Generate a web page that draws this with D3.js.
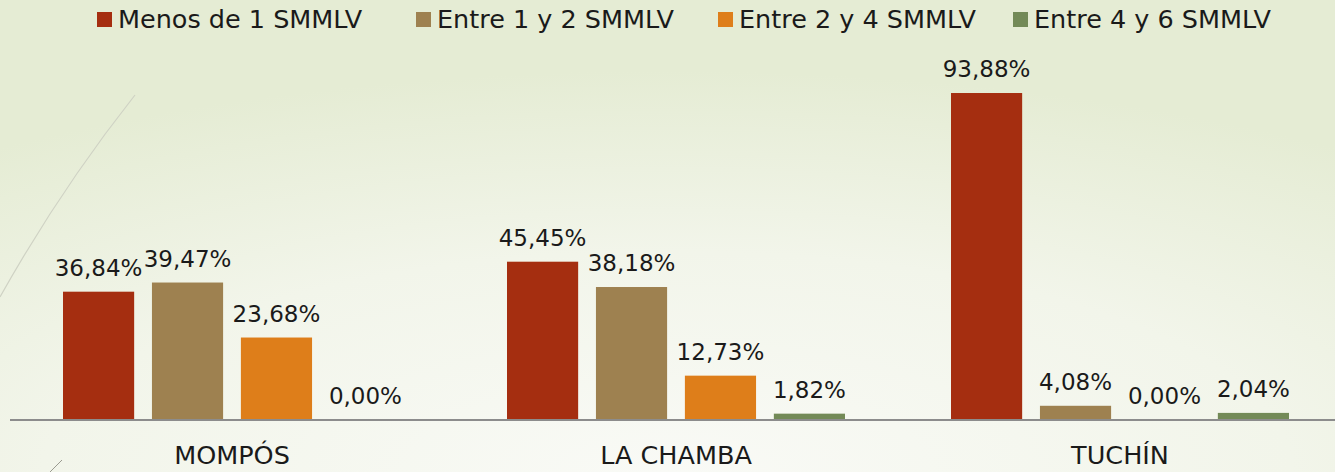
<!DOCTYPE html>
<html><head><meta charset="utf-8">
<script src="https://cdn.jsdelivr.net/npm/d3@7"></script>
<style>html,body{margin:0;padding:0;overflow:hidden;}svg{display:block;}</style>
</head><body>
<svg id="c" width="1335" height="472"></svg>
<script>
const categories = ["MOMPÓS", "LA CHAMBA", "TUCHÍN"];
const seriesNames = ["Menos de 1 SMMLV", "Entre 1 y 2 SMMLV", "Entre 2 y 4 SMMLV", "Entre 4 y 6 SMMLV"];
const menos1 = [36.84, 45.45, 93.88];
const entre1y2 = [39.47, 38.18, 4.08];
const entre2y4 = [23.68, 12.73, 0.00];
const entre4y6 = [0.00, 1.82, 2.04];
const colors = ["#a52e10", "#9e8150", "#de7e1a", "#738a57"];
const seriesValues = [menos1, entre1y2, entre2y4, entre4y6];

const W = 1335, H = 472;
const svg = d3.select("#c");
const font = "'Century Gothic','DejaVu Sans',sans-serif";

// background
const defs = svg.append("defs");
const rg = defs.append("radialGradient").attr("id","bg").attr("cx","50%").attr("cy","100%").attr("r","85%")
  .attr("gradientUnits","objectBoundingBox");
rg.append("stop").attr("offset","0%").attr("stop-color","#f9faf6");
rg.append("stop").attr("offset","55%").attr("stop-color","#f2f5ea");
rg.append("stop").attr("offset","100%").attr("stop-color","#e5ecd4");
svg.append("rect").attr("width",W).attr("height",H).attr("fill","url(#bg)");

// decorative slide lines
svg.append("path").attr("d","M0,297 Q60,190 135,95").attr("fill","none").attr("stroke","#cfd2c4").attr("stroke-width",1.2);
svg.append("path").attr("d","M50,472 L62,460").attr("fill","none").attr("stroke","#9a9a90").attr("stroke-width",1);

const x0 = d3.scaleBand().domain(categories).range([10, 1342]).paddingInner(0).paddingOuter(0);
const x1 = d3.scaleBand().domain(d3.range(4)).range([0, 338]).paddingInner(0.2).paddingOuter(0);
const y = d3.scaleLinear().domain([0, 100]).range([420, 71.7]);

const g = svg.append("g");
categories.forEach((cat, ci) => {
  const off = x0(cat) + (x0.bandwidth() - 338) / 2;
  const gg = g.append("g").attr("transform", `translate(${off},0)`);
  seriesValues.forEach((vals, si) => {
    const v = vals[ci];
    gg.append("rect").attr("x", x1(si)).attr("width", x1.bandwidth())
      .attr("y", y(v)).attr("height", y(0) - y(v)).attr("fill", colors[si]);
    gg.append("text").attr("x", x1(si) + x1.bandwidth()/2).attr("y", y(v) - 16)
      .attr("text-anchor","middle").attr("font-family",font).attr("font-size",23).attr("fill","#1a1a1a")
      .text(d3.format(".2f")(v).replace(".", ",") + "%");
  });
});

// axis
const xAxis = d3.axisBottom(x0).tickSize(0).tickPadding(26);
const ax = svg.append("g").attr("transform","translate(0,420)").call(xAxis);
ax.select(".domain").attr("d","M10,0H1335").attr("stroke","#8c8c8c").attr("stroke-width",2);
ax.selectAll("text").attr("font-family",font).attr("font-size",25.5).attr("fill","#1a1a1a");

// legend
const legendX = [97, 416, 718, 1013];
const lg = svg.append("g");
seriesNames.forEach((n, i) => {
  lg.append("rect").attr("x", legendX[i]).attr("y", 12).attr("width", 15).attr("height", 15).attr("fill", colors[i]);
  lg.append("text").attr("x", legendX[i] + 21).attr("y", 28).attr("font-family",font).attr("font-size",25.5)
    .attr("fill","#1a1a1a").text(n);
});
</script>
</body></html>
